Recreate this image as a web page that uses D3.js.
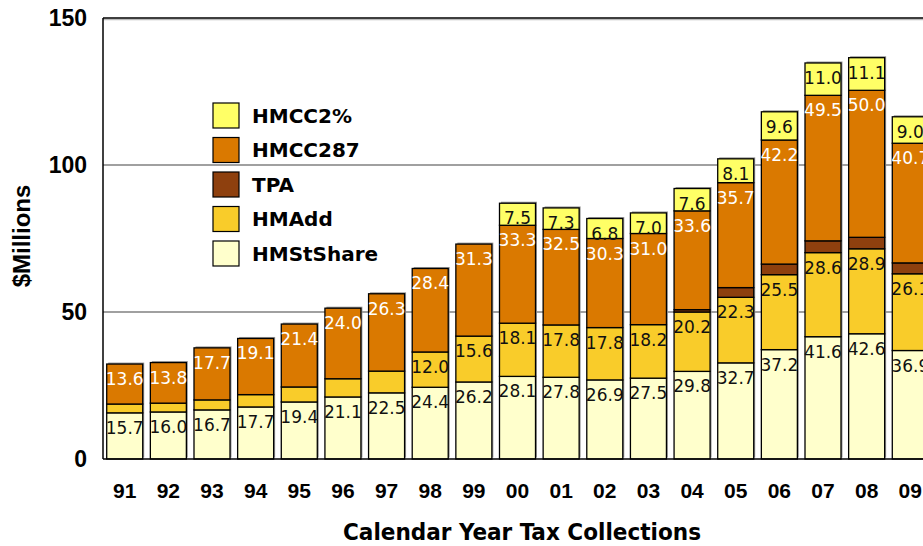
<!DOCTYPE html>
<html>
<head>
<meta charset="utf-8">
<script src="https://cdn.jsdelivr.net/npm/d3@7"></script>
<style>
  body { margin: 0; background: #fff; }
  svg { display: block; }
</style>
</head>
<body>
<div id="chart"></div>
<script>
// Data
const years = ['91','92','93','94','95','96','97','98','99','00','01','02','03','04','05','06','07','08','09'];
const hmStShare = [15.7,16.0,16.7,17.7,19.4,21.1,22.5,24.4,26.2,28.1,27.8,26.9,27.5,29.8,32.7,37.2,41.6,42.6,36.9];
const hmAdd     = [3.0,3.0,3.4,4.2,5.1,6.2,7.4,12.0,15.6,18.1,17.8,17.8,18.2,20.2,22.3,25.5,28.6,28.9,26.1];
const tpa       = [0,0,0,0,0,0,0,0,0,0,0,0,0,0.8,3.3,3.6,4.0,3.9,3.7];
const hmcc287   = [13.6,13.8,17.7,19.1,21.4,24.0,26.3,28.4,31.3,33.3,32.5,30.3,31.0,33.6,35.7,42.2,49.5,50.0,40.7];
const hmcc2     = [0,0,0,0,0,0,0,0,0,7.5,7.3,6.8,7.0,7.6,8.1,9.6,11.0,11.1,9.0];
const yTicks = [0, 50, 100, 150];

// series from bottom to top
const seriesNames = ['HMStShare', 'HMAdd', 'TPA', 'HMCC287', 'HMCC2%'];
const seriesValues = [hmStShare, hmAdd, tpa, hmcc287, hmcc2];
const colors = ['#ffffcc', '#f9cc2a', '#8e400e', '#da7900', '#ffff66'];
const labelColors = ['#111', '#111', null, '#fff', '#111'];
const minLabel = [0, 10, 999, 0, 0];

// build table for d3.stack
const table = years.map((y, i) => {
    const row = { year: y };
    seriesNames.forEach((s, k) => { row[s] = seriesValues[k][i]; });
    return row;
});
const stacked = d3.stack().keys(seriesNames)(table);

const width = 923, height = 546;

const svg = d3.select("#chart")
    .append("svg")
    .attr('width', width)
    .attr('height', height);

const xScale = d3.scaleBand().domain(years).range([103, 932]).paddingInner(0.175).paddingOuter(0.085);
const yScale = d3.scaleLinear().domain([0, 150]).range([459, 18]);

// gridlines
svg.append('g')
    .selectAll('line')
    .data(yTicks.filter(t => t > 0 && t < 150))
    .enter()
    .append('line')
    .attr('x1', 103).attr('x2', width)
    .attr('y1', d => yScale(d)).attr('y2', d => yScale(d))
    .attr('stroke', '#808080')
    .attr('stroke-width', 1.5);

// top frame line
svg.append('line')
    .attr('x1', 103).attr('x2', width)
    .attr('y1', yScale(150) + 1.5).attr('y2', yScale(150) + 1.5)
    .attr('stroke', '#bbb').attr('stroke-width', 1.5);
svg.append('line')
    .attr('x1', 103).attr('x2', width)
    .attr('y1', yScale(150)).attr('y2', yScale(150))
    .attr('stroke', '#000').attr('stroke-width', 1.5);

// bar shadows
svg.append('g')
    .selectAll('rect')
    .data(table)
    .enter()
    .append('rect')
    .attr('x', d => xScale(d.year) + 1.5)
    .attr('y', d => yScale(d3.sum(seriesNames, s => d[s])) - 1.5)
    .attr('width', xScale.bandwidth())
    .attr('height', d => yScale(0) - yScale(d3.sum(seriesNames, s => d[s])))
    .attr('fill', '#999');

// stacked bars
const layers = svg.append('g')
    .selectAll('g')
    .data(stacked)
    .enter()
    .append('g')
    .attr('fill', (d, i) => colors[i]);

layers.selectAll('rect')
    .data(d => d.filter(p => p[1] - p[0] > 0))
    .enter()
    .append('rect')
    .attr('x', d => xScale(d.data.year))
    .attr('y', d => yScale(d[1]))
    .attr('width', xScale.bandwidth())
    .attr('height', d => yScale(d[0]) - yScale(d[1]))
    .attr('stroke', '#000')
    .attr('stroke-width', 1.3);

// value labels
stacked.forEach((layer, k) => {
    if (!labelColors[k]) return;
    svg.append('g')
        .selectAll('text')
        .data(layer.filter(p => (p[1] - p[0]) > 0 && (p[1] - p[0]) >= minLabel[k]))
        .enter()
        .append('text')
        .attr('x', d => xScale(d.data.year) + xScale.bandwidth() / 2)
        .attr('y', d => yScale(d[1]) + 21)
        .attr('text-anchor', 'middle')
        .attr('font-family', 'DejaVu Sans')
        .attr('font-size', 17)
        .attr('fill', labelColors[k])
        .text(d => (d[1] - d[0]).toFixed(1));
});

// axes lines
svg.append('line')
    .attr('x1', 103).attr('x2', 103)
    .attr('y1', yScale(150)).attr('y2', yScale(0))
    .attr('stroke', '#000').attr('stroke-width', 1.5);
svg.append('line')
    .attr('x1', 103).attr('x2', width)
    .attr('y1', yScale(0)).attr('y2', yScale(0))
    .attr('stroke', '#000').attr('stroke-width', 1.5);

// y tick labels
svg.append('g')
    .selectAll('text')
    .data(yTicks)
    .enter()
    .append('text')
    .attr('x', 87)
    .attr('y', d => yScale(d))
    .attr('dy', '0.36em')
    .attr('text-anchor', 'end')
    .attr('font-family', 'Liberation Sans, Arial')
    .attr('font-weight', 'bold')
    .attr('font-size', 23)
    .text(d => d);

// x tick labels
svg.append('g')
    .selectAll('text')
    .data(years)
    .enter()
    .append('text')
    .attr('x', d => xScale(d) + xScale.bandwidth() / 2)
    .attr('y', 498)
    .attr('text-anchor', 'middle')
    .attr('font-family', 'Liberation Sans, Arial')
    .attr('font-weight', 'bold')
    .attr('font-size', 21)
    .text(d => d);

// axis titles
svg.append('text')
    .attr('text-anchor', 'middle')
    .attr('x', 522)
    .attr('y', 540)
    .attr('font-family', 'DejaVu Sans Condensed, DejaVu Sans')
    .attr('font-weight', 'bold')
    .attr('font-size', 23)
    .attr('textLength', 358)
    .attr('lengthAdjust', 'spacingAndGlyphs')
    .text('Calendar Year Tax Collections');

svg.append('text')
    .attr('text-anchor', 'middle')
    .attr('transform', 'translate(30,236) rotate(-90)')
    .attr('font-family', 'Liberation Sans, Arial')
    .attr('font-weight', 'bold')
    .attr('font-size', 24)
    .text('$Millions');

// legend (top entry first)
const legendItems = seriesNames.map((s, i) => ({ name: s, color: colors[i] })).reverse();
const legend = svg.append('g')
    .selectAll('g')
    .data(legendItems)
    .enter()
    .append('g')
    .attr('transform', (d, i) => `translate(213,${103 + i * 34.5})`);

legend.append('rect')
    .attr('width', 26)
    .attr('height', 25)
    .attr('fill', d => d.color)
    .attr('stroke', '#000')
    .attr('stroke-width', 1.2);

legend.append('text')
    .attr('x', 39)
    .attr('y', 12.5)
    .attr('dy', '0.36em')
    .attr('font-family', 'DejaVu Sans')
    .attr('font-weight', 'bold')
    .attr('font-size', 20)
    .text(d => d.name);
</script>
</body>
</html>
